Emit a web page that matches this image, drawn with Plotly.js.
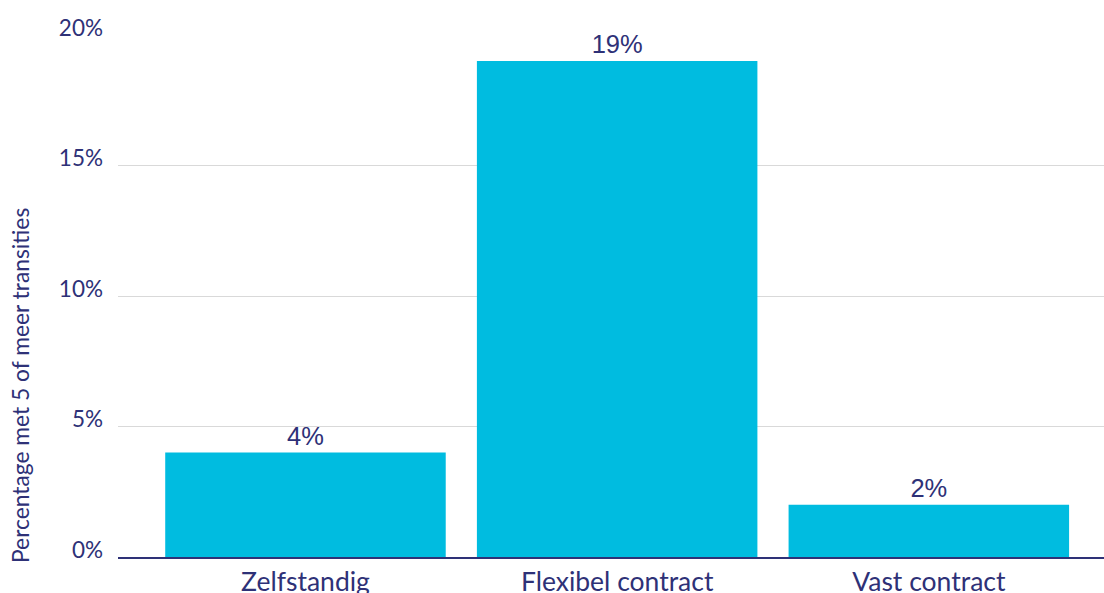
<!DOCTYPE html>
<html>
<head>
<meta charset="utf-8">
<script src="https://cdn.plot.ly/plotly-3.0.1.min.js"></script>
<style>html,body{margin:0;padding:0;background:#fff;}#chart{width:1104px;height:593px;}</style>
</head>
<body>
<div id="chart"></div>
<script>
const categories = ["Zelfstandig", "Flexibel contract", "Vast contract"];
const values = [4, 19, 2];
const valueLabels = ["4%", "19%", "2%"];
const yTickVals = [0, 5, 10, 15, 20];
const yTickText = ["0%", "5%", "10%", "15%", "20%"];
const yTitle = "Percentage met 5 of meer transities";

const navy = "#2E3177";
const trace = {
  type: "bar",
  x: categories,
  y: values,
  text: valueLabels,
  textposition: "outside",
  cliponaxis: false,
  textfont: {family: "Liberation Sans, Arial, sans-serif", size: 25.5, color: navy},
  marker: {color: "#00BCE0"},
  width: 0.9,
  hoverinfo: "none"
};
const layout = {
  width: 1104, height: 593,
  margin: {l: 118, r: 0, t: 35, b: 36},
  paper_bgcolor: "#fff", plot_bgcolor: "#fff",
  showlegend: false,
  font: {family: "Lato, Calibri, sans-serif", color: navy},
  xaxis: {
    type: "category",
    range: [-0.6015, 2.562],
    showgrid: false,
    showline: true, linecolor: navy, linewidth: 2,
    ticks: "",
    tickfont: {size: 26.5, color: navy},
    zeroline: false
  },
  yaxis: {
    range: [0, 20],
    tickvals: yTickVals,
    ticktext: yTickText,
    showgrid: true, gridcolor: "#D9D9D9", gridwidth: 1,
    zeroline: false,
    showline: false,
    ticks: "",
    ticklabelstandoff: 14,
    ticklabelshift: -7,
    tickfont: {size: 22.5, color: navy}
  },
  annotations: [{
    text: yTitle,
    xref: "paper", yref: "paper",
    x: -0.0994, y: 0.3295,
    xanchor: "center", yanchor: "middle",
    textangle: -90,
    showarrow: false,
    font: {size: 22.8, color: navy}
  }],
  bargap: 0.1
};
Plotly.newPlot("chart", [trace], layout, {displayModeBar: false, staticPlot: true});
</script>
</body>
</html>
